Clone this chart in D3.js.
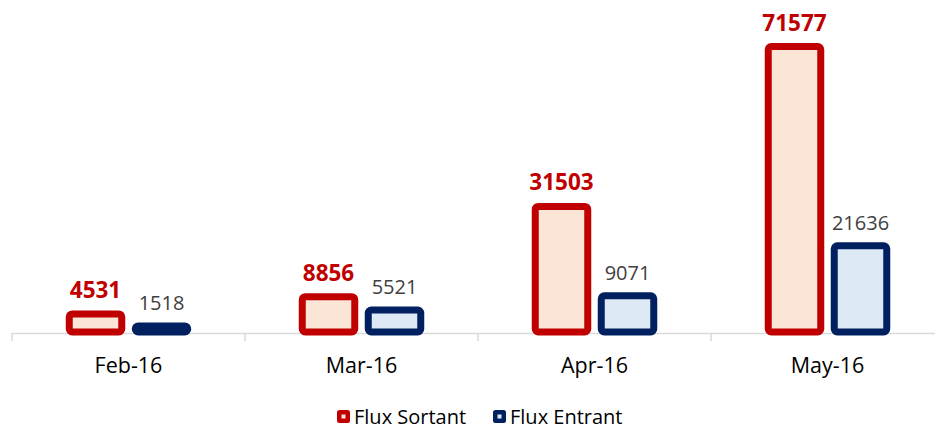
<!DOCTYPE html>
<html>
<head>
<meta charset="utf-8">
<script src="https://cdn.jsdelivr.net/npm/d3@7"></script>
<style>
  body { margin: 0; background: #fff; }
  text { font-family: "Open Sans", Lato, sans-serif; }
</style>
</head>
<body>
<div id="chart"></div>
<script>
// data
var months = ["Feb-16", "Mar-16", "Apr-16", "May-16"];
var fluxSortant = [4531, 8856, 31503, 71577];
var fluxEntrant = [1518, 5521, 9071, 21636];
var seriesNames = ["Flux Sortant", "Flux Entrant"];

var width = 935, height = 428;

var svg = d3.select("#chart")
  .append("svg")
    .attr("width", width)
    .attr("height", height);

// scales
var x = d3.scaleBand()
  .domain(months)
  .range([12, 944])
  .padding(0);

var y = d3.scaleLinear()
  .domain([0, 80000])
  .range([332, 13]);

var barW = 52.5, gap = 13.5;

var colors = {
  "Flux Sortant": {stroke: "#c00000", fill: "#fbe5d6"},
  "Flux Entrant": {stroke: "#002060", fill: "#dee9f6"}
};

var rows = months.map(function(m, i) {
  return {month: m, values: [
    {name: seriesNames[0], value: fluxSortant[i], idx: 0},
    {name: seriesNames[1], value: fluxEntrant[i], idx: 1}
  ]};
});

function barX(d, month) {
  var c = x(month) + x.bandwidth() / 2;
  return d.idx === 0 ? c - gap / 2 - barW : c + gap / 2;
}

// axis line
svg.append("line")
  .attr("x1", x.range()[0]).attr("x2", width)
  .attr("y1", 333.5).attr("y2", 333.5)
  .attr("stroke", "#d9d9d9")
  .attr("stroke-width", 1.5);

svg.selectAll(".tick")
  .data(months)
  .enter().append("line")
    .attr("x1", function(d) { return x(d); })
    .attr("x2", function(d) { return x(d); })
    .attr("y1", 333).attr("y2", 341)
    .attr("stroke", "#d9d9d9")
    .attr("stroke-width", 1.5);

// bars
var groups = svg.selectAll(".grp")
  .data(rows)
  .enter().append("g");

groups.selectAll("rect")
  .data(function(r) { return r.values.map(function(v) { v.month = r.month; return v; }); })
  .enter().append("rect")
    .attr("x", function(d) { return barX(d, d.month); })
    .attr("y", function(d) { return y(d.value); })
    .attr("width", barW)
    .attr("height", function(d) { return y(0) - y(d.value); })
    .attr("rx", 3)
    .attr("fill", function(d) { return colors[d.name].fill; })
    .attr("stroke", function(d) { return colors[d.name].stroke; })
    .attr("stroke-width", 7);

// value labels
groups.selectAll("text.val")
  .data(function(r) { return r.values; })
  .enter().append("text")
    .attr("class", "val")
    .attr("x", function(d) { return barX(d, d.month) + barW / 2; })
    .attr("y", function(d) { return y(d.value) - 16; })
    .attr("text-anchor", "middle")
    .attr("font-size", function(d) { return d.idx === 0 ? 22.5 : 20; })
    .attr("font-weight", function(d) { return d.idx === 0 ? "bold" : "normal"; })
    .attr("fill", function(d) { return d.idx === 0 ? "#c00000" : "#404040"; })
    .text(function(d) { return d.value; });

// category labels
svg.selectAll(".cat")
  .data(months)
  .enter().append("text")
    .attr("x", function(d) { return x(d) + x.bandwidth() / 2; })
    .attr("y", 373)
    .attr("text-anchor", "middle")
    .attr("font-size", 21.5)
    .attr("fill", "#000")
    .text(function(d) { return d; });

// legend
var legendPos = [337, 493];
var legend = svg.selectAll(".leg")
  .data(seriesNames)
  .enter().append("g")
    .attr("transform", function(d, i) { return "translate(" + legendPos[i] + ",410)"; });

legend.append("rect")
  .attr("width", 13).attr("height", 13)
  .attr("rx", 2.5)
  .attr("fill", function(d) { return colors[d].stroke; });

legend.append("rect")
  .attr("x", 4.5).attr("y", 4.5)
  .attr("width", 4).attr("height", 4)
  .attr("fill", function(d) { return colors[d].fill; });

legend.append("text")
  .attr("x", 17)
  .attr("y", 13.5)
  .attr("font-size", 20)
  .attr("fill", "#000")
  .text(function(d) { return d; });
</script>
</body>
</html>
